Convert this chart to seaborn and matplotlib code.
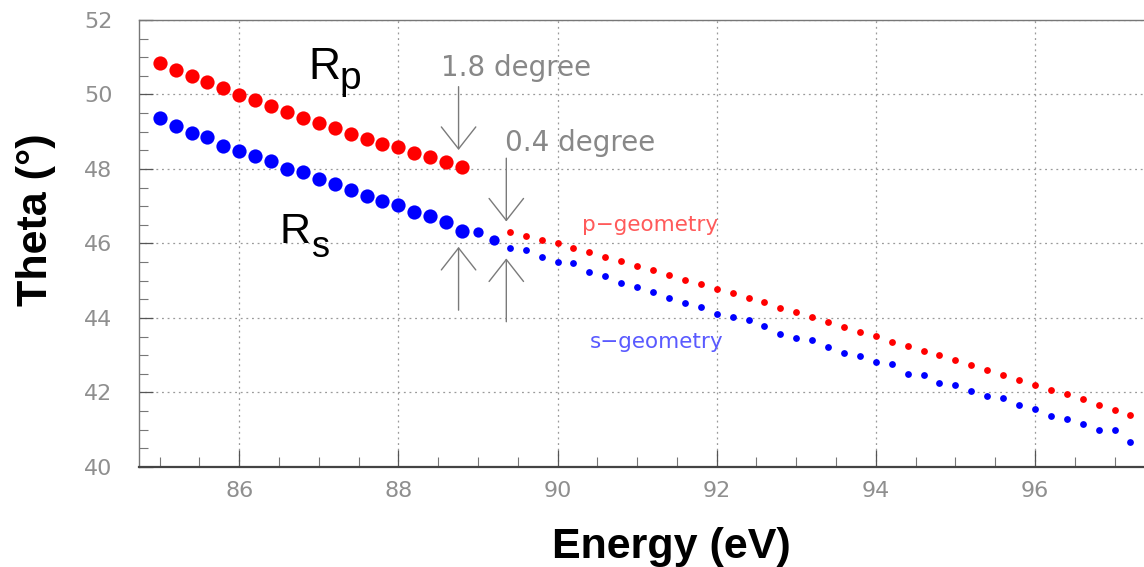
import matplotlib
matplotlib.use("Agg")
import matplotlib.pyplot as plt
import seaborn as sns
import pandas as pd

# ---------------- data ----------------
# large dots (measured reflectivity maxima)
big_energy = [85.0, 85.2, 85.4, 85.6, 85.8, 86.0, 86.2, 86.4, 86.6, 86.8,
              87.0, 87.2, 87.4, 87.6, 87.8, 88.0, 88.2, 88.4, 88.6, 88.8]
rp_theta = [50.84, 50.66, 50.50, 50.34, 50.17, 49.99, 49.84, 49.69, 49.52, 49.37,
            49.23, 49.09, 48.94, 48.81, 48.67, 48.58, 48.42, 48.31, 48.18, 48.06]
rs_theta = [49.36, 49.16, 48.97, 48.87, 48.63, 48.49, 48.36, 48.21, 48.00, 47.91,
            47.72, 47.60, 47.43, 47.28, 47.13, 47.04, 46.85, 46.74, 46.59, 46.34]

# medium blue dots
mid_energy = [89.0, 89.2]
mid_theta = [46.31, 46.09]

# small dots (geometry curves)
small_energy = [89.4, 89.6, 89.8, 90.0, 90.2, 90.4, 90.6, 90.8, 91.0, 91.2,
                91.4, 91.6, 91.8, 92.0, 92.2, 92.4, 92.6, 92.8, 93.0, 93.2,
                93.4, 93.6, 93.8, 94.0, 94.2, 94.4, 94.6, 94.8, 95.0, 95.2,
                95.4, 95.6, 95.8, 96.0, 96.2, 96.4, 96.6, 96.8, 97.0, 97.2]
p_geom_theta = [46.32, 46.21, 46.10, 46.01, 45.89, 45.77, 45.65, 45.53, 45.40, 45.29,
                45.16, 45.03, 44.91, 44.79, 44.66, 44.54, 44.42, 44.28, 44.15, 44.02,
                43.88, 43.76, 43.63, 43.51, 43.36, 43.25, 43.12, 43.00, 42.86, 42.74,
                42.60, 42.47, 42.34, 42.21, 42.07, 41.95, 41.82, 41.66, 41.53, 41.39]
s_geom_theta = [45.89, 45.83, 45.65, 45.51, 45.47, 45.24, 45.13, 44.95, 44.82, 44.70,
                44.53, 44.41, 44.30, 44.11, 44.02, 43.95, 43.78, 43.58, 43.46, 43.41,
                43.23, 43.07, 42.98, 42.82, 42.76, 42.51, 42.46, 42.26, 42.19, 42.04,
                41.90, 41.86, 41.66, 41.55, 41.37, 41.28, 41.15, 40.99, 40.99, 40.68]

x_ticks = [86, 88, 90, 92, 94, 96]
y_ticks = [40, 42, 44, 46, 48, 50, 52]

# ---------------- style ----------------
sns.set_style("white")
plt.rcParams["font.family"] = ["DejaVu Sans"]
plt.rcParams["text.color"] = "black"

W, H = 1144, 567
fig = plt.figure(figsize=(W / 100, H / 100), dpi=100)
ax = fig.add_axes([139 / W, 1 - 467 / H, 1005 / W, 447 / H])

df_big = pd.DataFrame({"E": big_energy, "rp": rp_theta, "rs": rs_theta})
df_mid = pd.DataFrame({"E": mid_energy, "t": mid_theta})
df_small = pd.DataFrame({"E": small_energy, "p": p_geom_theta, "s": s_geom_theta})

kw = dict(linewidth=0, legend=False, ax=ax, zorder=3)
sns.scatterplot(data=df_big, x="E", y="rp", color="#ff0000", s=105, **kw)
sns.scatterplot(data=df_big, x="E", y="rs", color="#0000ff", s=105, **kw)
sns.scatterplot(data=df_mid, x="E", y="t", color="#0000ff", s=55, **kw)
sns.scatterplot(data=df_small, x="E", y="p", color="#ff0000", s=24, **kw)
sns.scatterplot(data=df_small, x="E", y="s", color="#0000ff", s=24, **kw)

ax.set_xlim(84.74, 97.37)
ax.set_ylim(40, 52)
ax.set_xticks(x_ticks)
ax.set_yticks(y_ticks)
ax.set_xticks([v / 2 for v in range(170, 195)], minor=True)
ax.set_yticks([v / 2 for v in range(80, 105)], minor=True)
ax.set_xlabel("")
ax.set_ylabel("")

ax.grid(True, which="major", color="#9a9a9a", linestyle=(0, (1.5, 3)), linewidth=0.9)
ax.set_axisbelow(True)

ax.tick_params(axis="x", which="both", bottom=True, top=False)
ax.tick_params(axis="y", which="both", left=True, right=False)
ax.tick_params(axis="x", which="major", direction="in", length=12, width=0.9,
               color="#555555", labelsize=16, labelcolor="#8f8f8f", pad=10)
ax.tick_params(axis="x", which="minor", direction="in", length=7.5, width=0.8, color="#777777")
ax.tick_params(axis="y", which="major", direction="in", length=10, width=0.9,
               color="#555555", labelsize=16, labelcolor="#8f8f8f", pad=19)
ax.tick_params(axis="y", which="minor", direction="in", length=6.5, width=0.8, color="#777777")

for side in ["left", "top"]:
    ax.spines[side].set_color("#777777")
    ax.spines[side].set_linewidth(1.0)
ax.spines["bottom"].set_color("#444444")
ax.spines["bottom"].set_linewidth(1.6)
ax.spines["right"].set_visible(False)

# ---------------- annotations ----------------
gray = "#888888"
ax.text(88.53, 50.71, "1.8 degree", ha="left", va="center", fontsize=20, color=gray)
ax.text(89.34, 48.70, "0.4 degree", ha="left", va="center", fontsize=20, color=gray)
ax.text(90.31, 46.50, "p\u2212geometry", ha="left", va="center", fontsize=15.5, color="#ff5a5a")
ax.text(90.41, 43.36, "s\u2212geometry", ha="left", va="center", fontsize=15.5, color="#5a5aff")

rfont = ["Liberation Sans", "DejaVu Sans"]
ax.text(86.87, 50.42, "R", ha="left", va="baseline", fontsize=32, family=rfont, color="black")
ax.text(87.26, 50.15, "p", ha="left", va="baseline", fontsize=28, family=rfont, color="black")
ax.text(86.50, 46.01, "R", ha="left", va="baseline", fontsize=31, family=rfont, color="black")
ax.text(86.92, 45.64, "s", ha="left", va="baseline", fontsize=26, family=rfont, color="black")

astyle = dict(arrowstyle="->,head_length=0.79,head_width=0.62", color="#7a7a7a",
              lw=1.0, shrinkA=0, shrinkB=0, mutation_scale=20)
ax.annotate("", xy=(88.756, 48.51), xytext=(88.756, 50.21), arrowprops=astyle)
ax.annotate("", xy=(88.756, 45.91), xytext=(88.756, 44.21), arrowprops=astyle)
ax.annotate("", xy=(89.356, 46.59), xytext=(89.356, 48.29), arrowprops=astyle)
ax.annotate("", xy=(89.356, 45.60), xytext=(89.356, 43.90), arrowprops=astyle)

# ---------------- axis titles ----------------
fig.text(47 / W, 1 - 220 / H, "Theta (\u00b0)", rotation=90, rotation_mode="anchor",
         ha="center", va="baseline", fontsize=31, fontweight="bold", family=rfont,
         color="black")
fig.text(671 / W, 1 - 558 / H, "Energy (eV)", ha="center", va="baseline",
         fontsize=31, fontweight="bold", family=rfont, color="black")

fig.savefig("out.png", dpi=100)
